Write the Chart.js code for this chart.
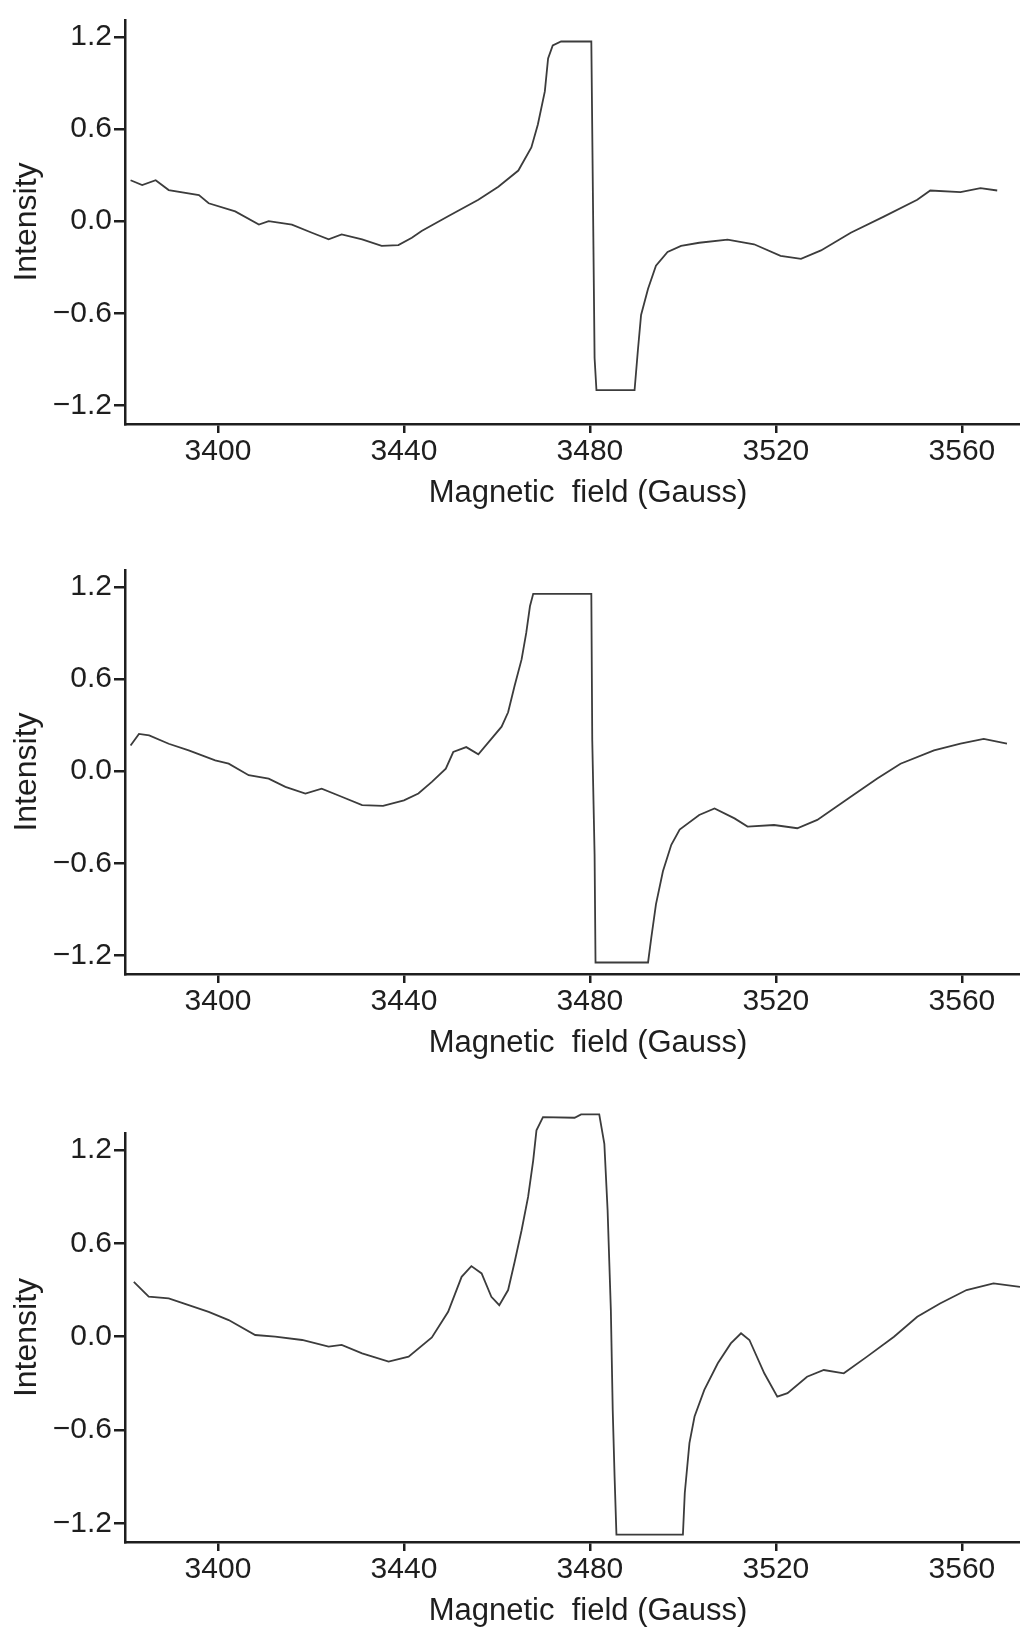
<!DOCTYPE html>
<html>
<head>
<meta charset="utf-8">
<script src="https://cdn.jsdelivr.net/npm/chart.js@4.4.1/dist/chart.umd.min.js"></script>
<style>
  html, body { margin: 0; padding: 0; background: #fff; }
  body { width: 1020px; height: 1630px; position: relative; overflow: hidden; }
  canvas { position: absolute; left: 0; }
</style>
</head>
<body>
<canvas id="panel1" width="1020" height="512" style="top:0px"></canvas>
<canvas id="panel2" width="1020" height="512" style="top:550px"></canvas>
<canvas id="panel3" width="1020" height="540" style="top:1090px"></canvas>
<script>
// Tick labels shared by all three panels
const fieldTicks = [3400, 3440, 3480, 3520, 3560];
const intensityTicks = [-1.2, -0.6, 0.0, 0.6, 1.2];

// Panel 1 (top)
const fieldA = [3381.2, 3383.7, 3386.6, 3389.4, 3395.9, 3398, 3403.7, 3408.8, 3410.9, 3415.9,
  3420.2, 3423.8, 3426.6, 3431, 3435.2, 3438.8, 3441.7, 3443.8, 3449.5, 3456,
  3460.3, 3464.6, 3467.4, 3468.8, 3470.3, 3471, 3472, 3473.8, 3480.3, 3481,
  3481.4, 3489.6, 3490.3, 3491, 3492.5, 3494.2, 3496.7, 3499.6, 3503.5, 3509.6,
  3515.3, 3521, 3525.4, 3529.7, 3536.1, 3543.2, 3550.4, 3553.2, 3559.7, 3564, 3567.6];
const intensityA = [0.267, 0.235, 0.267, 0.203, 0.17, 0.117, 0.064, -0.022, 0, -0.022,
  -0.075, -0.118, -0.086, -0.118, -0.16, -0.155, -0.107, -0.064, 0.032, 0.14,
  0.225, 0.33, 0.48, 0.63, 0.845, 1.06, 1.145, 1.17, 1.17, -0.89,
  -1.10, -1.10, -0.845, -0.61, -0.44, -0.29, -0.2, -0.16, -0.14, -0.12,
  -0.15, -0.225, -0.245, -0.19, -0.075, 0.03, 0.14, 0.2, 0.19, 0.215, 0.2];

// Panel 2 (middle)
const fieldB = [3381.2, 3383, 3385.2, 3389.4, 3393.7, 3399.4, 3402.3, 3406.6, 3410.9, 3414.5,
  3418.8, 3422.3, 3426.6, 3431, 3435.5, 3440, 3443.1, 3446, 3449, 3450.6,
  3453.4, 3456, 3461, 3462.4, 3463.8, 3465.3, 3466.3, 3467.1, 3467.8, 3480.3,
  3480.5, 3481, 3481.2, 3492.5, 3493.2, 3494.2, 3495.7, 3497.5, 3499.3, 3503.5,
  3506.8, 3511.1, 3513.9, 3519.6, 3524.6, 3528.9, 3536.1, 3541.8, 3546.8, 3554,
  3559.7, 3564.7, 3569.7];
const intensityB = [0.168, 0.243, 0.233, 0.179, 0.136, 0.071, 0.049, -0.026, -0.048, -0.102,
  -0.145, -0.113, -0.166, -0.22, -0.225, -0.19, -0.145, -0.069, 0.017, 0.125,
  0.157, 0.11, 0.29, 0.384, 0.556, 0.728, 0.9, 1.074, 1.155, 1.155,
  0.2, -0.54, -1.245, -1.245, -1.083, -0.867, -0.651, -0.479, -0.38, -0.285,
  -0.242, -0.307, -0.36, -0.35, -0.371, -0.317, -0.166, -0.048, 0.049, 0.136,
  0.179, 0.21, 0.179];

// Panel 3 (bottom)
const fieldC = [3381.9, 3385.1, 3389.4, 3393.7, 3398, 3402.3, 3408, 3412.3, 3418.1, 3423.8,
  3426.6, 3431, 3436.7, 3441, 3446, 3449.5, 3452.4, 3454.5, 3456.7, 3458.8,
  3460.5, 3462.4, 3463.8, 3465.3, 3466.7, 3467.8, 3468.5, 3469.9, 3476.7, 3478.1,
  3482, 3483.1, 3483.8, 3484.5, 3484.9, 3485.3, 3485.7, 3500, 3500.4, 3501.4,
  3502.5, 3504.6, 3507.5, 3510.3, 3512.5, 3514.3, 3517.5, 3520.3, 3522.5, 3526.7,
  3530.3, 3534.6, 3539.6, 3545.4, 3550.4, 3555.3, 3561, 3566.8, 3572.5];
const intensityC = [0.353, 0.257, 0.246, 0.203, 0.16, 0.107, 0.011, 0, -0.021, -0.064,
  -0.053, -0.107, -0.16, -0.128, -0.005, 0.16, 0.385, 0.454, 0.407, 0.257,
  0.203, 0.3, 0.48, 0.685, 0.899, 1.134, 1.327, 1.412, 1.408, 1.43,
  1.43, 1.241, 0.813, 0.171, -0.47, -0.899, -1.273, -1.273, -1.005, -0.684,
  -0.513, -0.342, -0.171, -0.043, 0.022, -0.021, -0.235, -0.385, -0.363, -0.257,
  -0.214, -0.235, -0.128, 0, 0.128, 0.214, 0.3, 0.343, 0.321];

const FONT = '"Liberation Sans", Arial, sans-serif';
const INK = '#1e1e1e';

// Build one panel: canvas id, data arrays, top padding
function makePanel(id, xs, ys, padTop) {
    const ctx = document.getElementById(id).getContext('2d');
    const canvasH = ctx.canvas.height;
    const points = xs.map((x, i) => ({ x: x, y: ys[i] }));

    return new Chart(ctx, {
        type: 'line',
        data: {
            datasets: [{
                data: points,
                borderColor: '#3c3c3c',
                borderWidth: 1.8,
                pointRadius: 0,
                tension: 0,
                fill: false,
                clip: false
            }]
        },
        options: {
            responsive: false,
            animation: false,
            devicePixelRatio: 1,
            layout: { padding: { top: padTop, left: 0, right: 0, bottom: 0 } },
            plugins: { legend: { display: false }, tooltip: { enabled: false } },
            scales: {
                x: {
                    type: 'linear',
                    min: 3380,
                    max: 3572.5,
                    afterBuildTicks: s => { s.ticks = fieldTicks.map(v => ({ value: v })); },
                    afterFit: s => { s.height = canvasH - padTop - 409; },
                    border: { display: true, color: INK, width: 2.5 },
                    grid: { drawOnChartArea: false, drawTicks: true, tickLength: 9, color: INK, lineWidth: 2.5 },
                    ticks: {
                        font: { family: FONT, size: 30 },
                        color: INK,
                        padding: 1,
                        maxRotation: 0,
                        callback: v => String(v)
                    },
                    title: {
                        display: true,
                        text: '\u2003Magnetic  field (Gauss)',
                        font: { family: FONT, size: 31 },
                        color: INK,
                        padding: { top: 0, bottom: 0 }
                    }
                },
                y: {
                    min: -1.32,
                    max: 1.31,
                    afterBuildTicks: s => { s.ticks = intensityTicks.map(v => ({ value: v })); },
                    afterFit: s => { s.width = 125; },
                    border: { display: true, color: INK, width: 2.5 },
                    grid: { drawOnChartArea: false, drawTicks: true, tickLength: 11, color: INK, lineWidth: 2.5 },
                    ticks: {
                        font: { family: FONT, size: 30 },
                        color: INK,
                        padding: 2,
                        callback: v => (v < 0 ? '\u2212' : '') + Math.abs(v).toFixed(1)
                    },
                    title: {
                        display: true,
                        text: 'Intensity',
                        font: { family: FONT, size: 32 },
                        color: INK,
                        padding: { top: 8, bottom: 0 }
                    }
                }
            }
        }
    });
}

makePanel('panel1', fieldA, intensityA, 15);
makePanel('panel2', fieldB, intensityB, 15);
makePanel('panel3', fieldC, intensityC, 43);
</script>
</body>
</html>
